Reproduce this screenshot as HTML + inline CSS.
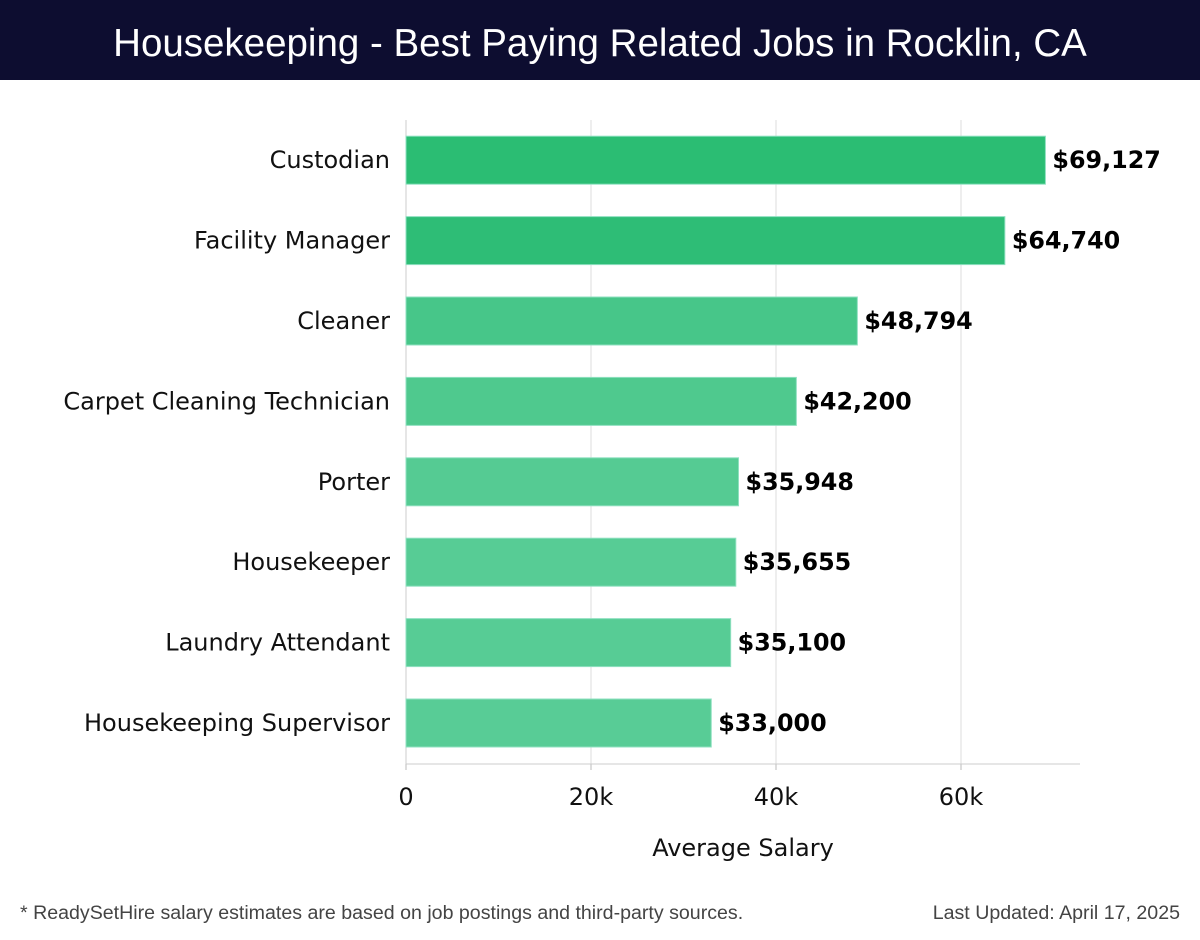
<!DOCTYPE html>
<html><head><meta charset="utf-8"><style>
body{margin:0;width:1200px;height:940px;background:#fff;font-family:"Liberation Sans","DejaVu Sans",sans-serif;overflow:hidden}
#hdr{position:absolute;left:0;top:0;width:1200px;height:80px;background:#0d0d30;color:#fff;font-size:38.5px;text-align:center;line-height:88px}
svg{position:absolute;left:0;top:0}
</style></head><body>
<div id="hdr">Housekeeping - Best Paying Related Jobs in Rocklin, CA</div>
<svg id="c" width="1200" height="940" font-family="DejaVu Sans, sans-serif"></svg>
<script>
const categories=["Custodian","Facility Manager","Cleaner","Carpet Cleaning Technician","Porter","Housekeeper","Laundry Attendant","Housekeeping Supervisor"];
const salaries=[69127,64740,48794,42200,35948,35655,35100,33000];
const valueLabels=["$69,127","$64,740","$48,794","$42,200","$35,948","$35,655","$35,100","$33,000"];
const barColors=["#2bbd73","#2ebd76","#47c689","#4fc98e","#55cb93","#57cc95","#57cc95","#58cc96"];
const ticks=[0,20000,40000,60000];
const tickLabels=["0","20k","40k","60k"];
const NS="http://www.w3.org/2000/svg",svg=document.getElementById('c');
const x0=406,pxPer=185/20000,plotTop=120,step=80.4,barH=48,plotBottom=764,plotRight=1080;
const X=v=>x0+v*pxPer, Y=i=>plotTop+step*i+step/2;
function mk(t,a,txt){const e=document.createElementNS(NS,t);for(const k in a)e.setAttribute(k,a[k]);if(txt!=null)e.textContent=txt;svg.appendChild(e);return e;}
ticks.forEach((t,i)=>{
 if(i>0){const g=mk('line',{x1:X(t),x2:X(t),y1:plotTop,y2:plotBottom,stroke:'#dddddd','stroke-width':1});
 
 }
 const tk=mk('line',{x1:X(t),x2:X(t),y1:plotBottom,y2:plotBottom+6,stroke:'#bbb'});
 
 
 const l=mk('text',{x:X(t),y:805,'font-size':24,'text-anchor':'middle',fill:'#111'},tickLabels[i]);
 
 
});
const ax=mk('line',{x1:x0,x2:plotRight,y1:plotBottom,y2:plotBottom,stroke:'#ccc'});


const ay=mk('line',{x1:x0,x2:x0,y1:plotTop,y2:plotBottom,stroke:'#ccc'});


categories.forEach((c,i)=>{
 const y=Y(i);
 const b=mk('rect',{x:x0,y:y-barH/2,width:X(salaries[i])-x0,height:barH,fill:barColors[i],stroke:'#8fe0c0','stroke-width':1});
 
 
 const cl=mk('text',{x:390,y:y+8,'font-size':24,'text-anchor':'end',fill:'#111'},c);
 
 
 const vl=mk('text',{x:X(salaries[i])+7,y:y+8,'font-size':23.8,'font-weight':'bold',fill:'#000'},valueLabels[i]);
 
 
});
const xt=mk('text',{x:743,y:856,'font-size':24,'text-anchor':'middle',fill:'#111'},'Average Salary');


const fn=mk('text',{x:20,y:919,'font-size':19.6,fill:'#444','font-family':'Liberation Sans, sans-serif'},'* ReadySetHire salary estimates are based on job postings and third-party sources.');


const up=mk('text',{x:1180,y:919,'font-size':19.6,'text-anchor':'end',fill:'#444','font-family':'Liberation Sans, sans-serif'},'Last Updated: April 17, 2025');


</script>
</body></html>
